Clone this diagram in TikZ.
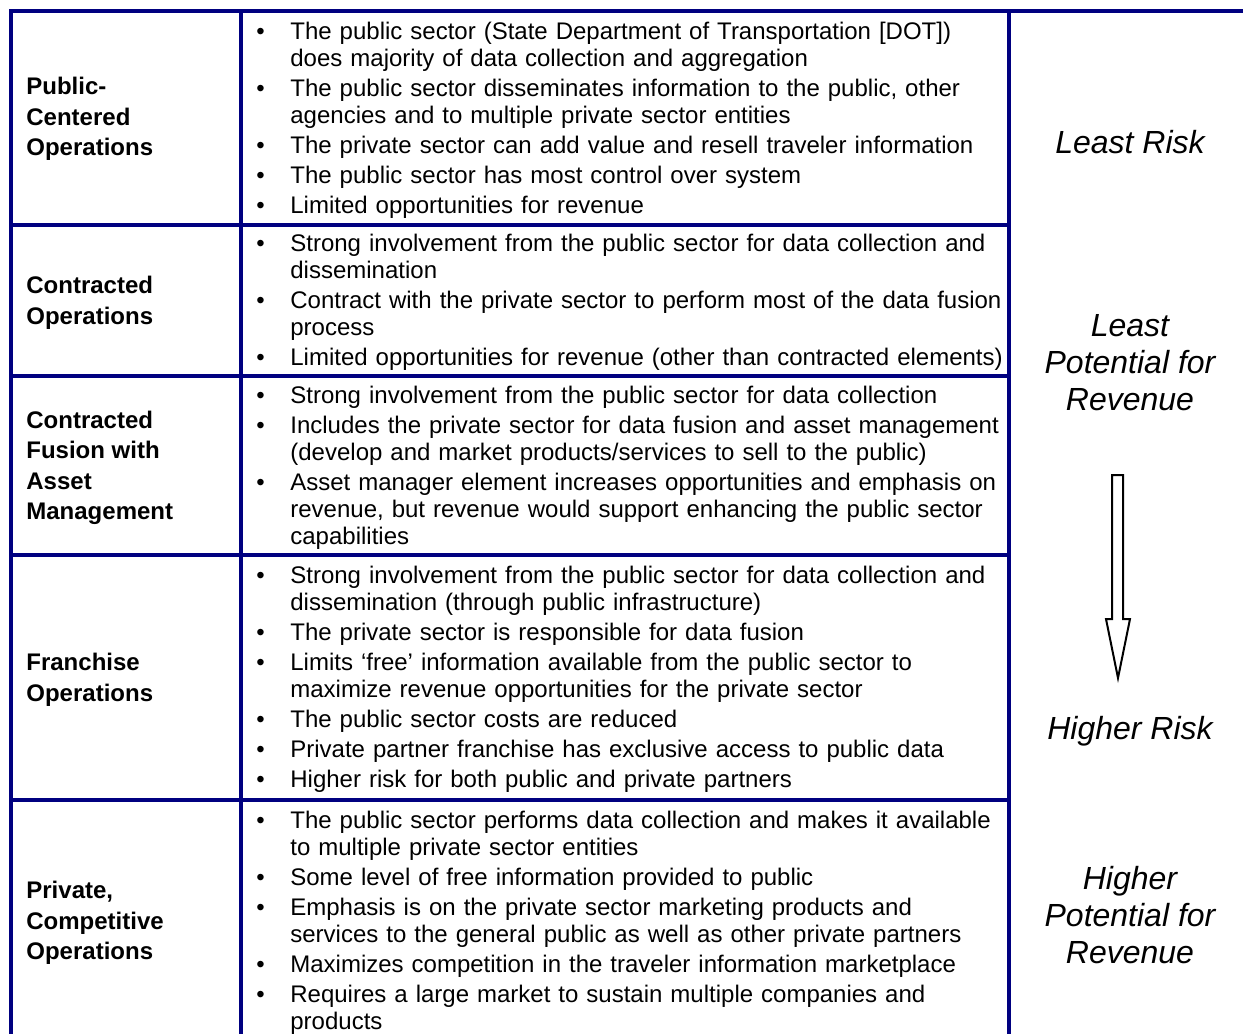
\documentclass[tikz,border=0pt]{standalone}
\usepackage{fontspec}
\setmainfont{Liberation Sans}
\definecolor{tablenavy}{RGB}{0,0,128}
\newcommand{\bulitem}{\par\vskip1.5pt\hangindent=17pt\hangafter=1\noindent\hbox to 17pt{\strut\textbullet\hfil}}
\begin{document}
\begin{tikzpicture}[x = 0.5pt, y = -0.5pt,
                gridline/.style = {draw = tablenavy, line width = 2pt},
                rowhead/.style  = {anchor = west, align = left, inner sep = 0,
                                   font = \fontsize{12}{15.25}\selectfont\bfseries},
                rowlist/.style  = {anchor = north west, align = left, inner sep = 0, text width = 380pt,
                                   font = \fontsize{12}{13.5}\selectfont},
                sidenote/.style = {align = center, inner sep = 0,
                                   font = \fontsize{16}{18.5}\selectfont\itshape}]
                \useasboundingbox (0,0) rectangle (1243,1034);
                \clip (0,0) rectangle (1243,1034);

                \draw [gridline]                (9,11) -- (1250,11);
                \draw [gridline]                (11,9) -- (11,1045);
                \draw [gridline]                (241,11) -- (241,1045);
                \draw [gridline]                (1009,11) -- (1009,1045);
                \foreach \y in {224.5,375.5,555,800}
                    \draw [gridline]            (9,\y) -- (1011,\y);

                \node [rowhead] (pubhead)   at (26,119) {Public-\\Centered\\Operations};
                \node [rowhead] (conhead)   at (26,303) {Contracted\\Operations};
                \node [rowhead] (fushead)   at (26,468) {Contracted\\Fusion with\\Asset\\Management};
                \node [rowhead] (frahead)   at (26,680) {Franchise\\Operations};
                \node [rowhead] (prihead)   at (26,923) {Private,\\Competitive\\Operations};

                \node [rowlist] (publist)   at (256,9) {%
                    \bulitem The public sector (State Department of Transportation [DOT])\newline does majority of data collection and aggregation
                    \bulitem The public sector disseminates information to the public, other\newline agencies and to multiple private sector entities
                    \bulitem The private sector can add value and resell traveler information
                    \bulitem The public sector has most control over system
                    \bulitem Limited opportunities for revenue\par};
                \node [rowlist] (conlist)   at (256,221) {%
                    \bulitem Strong involvement from the public sector for data collection and\newline dissemination
                    \bulitem Contract with the private sector to perform most of the data fusion\newline process
                    \bulitem Limited opportunities for revenue (other than contracted elements)\par};
                \node [rowlist] (fuslist)   at (256,373.5) {%
                    \bulitem Strong involvement from the public sector for data collection
                    \bulitem Includes the private sector for data fusion and asset management\newline (develop and market products/services to sell to the public)
                    \bulitem Asset manager element increases opportunities and emphasis on\newline revenue, but revenue would support enhancing the public sector\newline capabilities\par};
                \node [rowlist] (fralist)   at (256,553) {%
                    \bulitem Strong involvement from the public sector for data collection and\newline dissemination (through public infrastructure)
                    \bulitem The private sector is responsible for data fusion
                    \bulitem Limits ‘free’ information available from the public sector to\newline maximize revenue opportunities for the private sector
                    \bulitem The public sector costs are reduced
                    \bulitem Private partner franchise has exclusive access to public data
                    \bulitem Higher risk for both public and private partners\par};
                \node [rowlist] (prilist)   at (256,798) {%
                    \bulitem The public sector performs data collection and makes it available\newline to multiple private sector entities
                    \bulitem Some level of free information provided to public
                    \bulitem Emphasis is on the private sector marketing products and\newline services to the general public as well as other private partners
                    \bulitem Maximizes competition in the traveler information marketplace
                    \bulitem Requires a large market to sustain multiple companies and\newline products\par};

                \node [sidenote] (leastrisk)    at (1130,142) {Least Risk};
                \node [sidenote] (leastrev)     at (1130,363) {Least\\Potential for\\Revenue};
                \node [sidenote] (higherrisk)   at (1130,731) {Higher Risk};
                \node [sidenote] (higherrev)    at (1130,915) {Higher\\Potential for\\Revenue};

                \draw [line width = 1pt, line join = miter]
                      (1112,475) -- (1123,475) -- (1123,619) -- (1130,619) -- (1118,678)
                   -- (1106,619) -- (1112,619) -- cycle;
            \end{tikzpicture}
\end{document}
